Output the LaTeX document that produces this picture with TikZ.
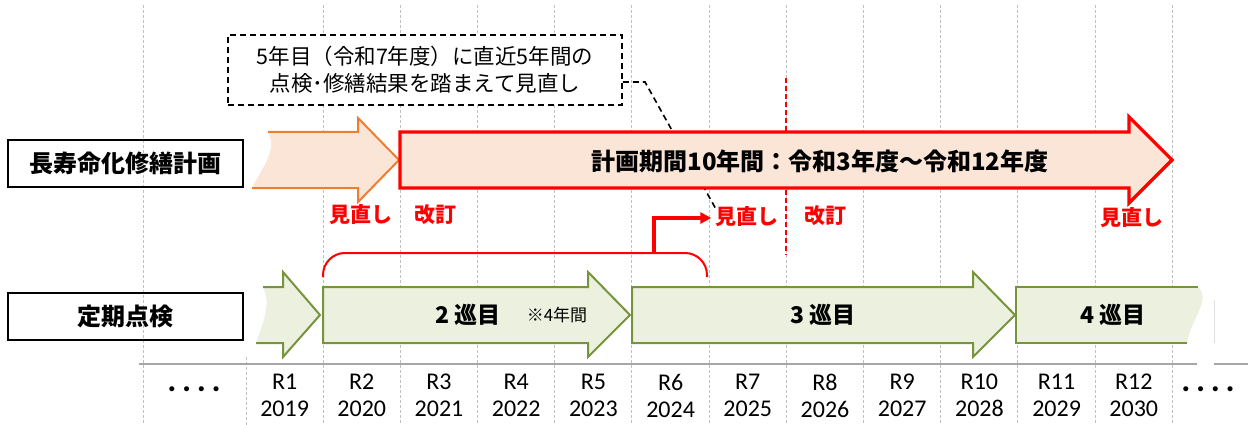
\documentclass[tikz,border=0pt]{standalone}
\usepackage{fontspec}
\setmainfont{Carlito}
\newfontfamily\jp{Noto Sans CJK JP}
\usetikzlibrary{arrows.meta}
\definecolor{gridgray}{HTML}{BFBFBF}
\definecolor{axisgray}{HTML}{A6A6A6}
\definecolor{orstroke}{HTML}{ED7D31}
\definecolor{orfill}{HTML}{FBE5D6}
\definecolor{grstroke}{HTML}{77933C}
\definecolor{grfill}{HTML}{EBF1DE}
\definecolor{redline}{HTML}{FF0000}
\tikzset{
  gridline/.style={gridgray, line width=1, dash pattern=on 3pt off 2pt},
  lbox/.style={draw=black, line width=1.5, minimum width=235, minimum height=47,
    inner sep=0, font=\jp\bfseries\fontsize{24}{28}\selectfont},
  callout/.style={draw=black, fill=white, line width=1.6, dash pattern=on 6pt off 4pt,
    minimum width=394, minimum height=70, inner sep=0, align=center,
    font=\jp\fontsize{21.5}{27}\selectfont},
  redlbl/.style={text=redline, inner sep=0, font=\jp\bfseries\fontsize{21}{24}\selectfont},
  cyclelbl/.style={inner sep=0, font=\jp\bfseries\fontsize{23}{26}\selectfont},
  yearlbl/.style={inner sep=0, align=center, font=\fontsize{24}{27}\selectfont},
  dots/.style={inner sep=0, font=\bfseries\fontsize{34}{36}\selectfont},
  orarrow/.style={draw=orstroke, line width=2, line join=miter},
  grarrow/.style={draw=grstroke, fill=grfill, line width=2, line join=miter},
}
\begin{document}
\begin{tikzpicture}[x=1pt,y=-1pt]
\useasboundingbox (0,0) rectangle (1248,425);
% grid
\draw[gridline] (143,5) -- (143,425);
\draw[gridline] (246,357) -- (246,425);
\foreach \k in {0,...,11} {
  \draw[gridline] ({323+77.2*\k},5) -- ({323+77.2*\k},425);
}
% axis
\draw[axisgray, line width=1.5] (139,364) -- (1197,364);
\draw[axisgray, line width=1.5] (1214,364) -- (1248,364);
\draw[gray!25, line width=0.8] (1214,300) -- (1214,343);

% labels boxes
\node[lbox] (plan) at (125.5,163.5) {長寿命化修繕計画};
\node[lbox] (insp) at (125.5,316.5) {定期点検};

% callout
\node[callout] (note) at (425,70) {5年目（令和7年度）に直近5年間の\\点検･修繕結果を踏まえて見直し};

% red labels
\node[redlbl] (m1) at (361,215) {見直し};
\node[redlbl] (k1) at (435,215) {改訂};
\node[redlbl] (m2) at (747,217) {見直し};
\node[redlbl] (k2) at (825,216) {改訂};
\node[redlbl] (m3) at (1132,218) {見直し};

% leader line
\draw[black, line width=1.6, dash pattern=on 6pt off 4pt]
  ([yshift=-12pt]note.east) -- (645,82) -- ([xshift=1pt,yshift=-3pt]m2.north west);

% red dashed revision line (behind the plan arrow)
\draw[redline, line width=1.5, dash pattern=on 5pt off 3pt] (786,78) -- (786,255);

% orange previous plan arrow
\fill[orfill] (268,132) -- (358,132) -- (358,118) -- (399,160) -- (358,202) -- (358,188) -- (252,188)
  .. controls (262,168) and (278,150) .. cycle;
\draw[orarrow] (268,132) -- (358,132) -- (358,118) -- (399,160) -- (358,202) -- (358,188) -- (252,188);

% red plan arrow
\draw[draw=redline, fill=orfill, line width=3.2, line join=miter]
  (400,132) -- (1129,132) -- (1129,117) -- (1172,160) -- (1129,203) -- (1129,188) -- (400,188) -- cycle;
\node[inner sep=0, font=\jp\bfseries\fontsize{24}{28}\selectfont] (period) at (820,161)
  {計画期間10年間：令和3年度～令和12年度};

% bracket
\draw[redline, line width=2, rounded corners=22] (323,277) -- (323,253) -- (707,253) -- (707,277);
\coordinate (bk) at (654,253);
\draw[redline, line width=3.5, -{Triangle[length=11pt,width=11pt]}]
  (bk) |- ([xshift=-4pt,yshift=-1pt]m2.west);

% green inspection arrows
\fill[grfill] (263,287) -- (283,287) -- (283,272) -- (320,315) -- (283,357) -- (283,343) -- (256,343)
  .. controls (262,325) and (272,305) .. cycle;
\draw[draw=grstroke, line width=2, line join=miter]
  (263,287) -- (283,287) -- (283,272) -- (320,315) -- (283,357) -- (283,343) -- (256,343);

\draw[grarrow] (323,287) -- (588,287) -- (588,272) -- (630,315) -- (588,357) -- (588,343) -- (323,343) -- cycle;
\draw[grarrow] (632,287) -- (973,287) -- (973,272) -- (1015,315) -- (973,357) -- (973,343) -- (632,343) -- cycle;
\fill[grfill] (1016,287) -- (1198,287) .. controls (1212,300) and (1190,320) .. (1187,343) -- (1016,343) -- cycle;
\draw[draw=grstroke, line width=2, line join=miter] (1198,287) -- (1016,287) -- (1016,343) -- (1187,343);

\node[cyclelbl] (c2) at (468,315) {2 巡目};
\node[inner sep=0, font=\jp\fontsize{17}{20}\selectfont] (c2n) at (557,315) {※4年間};
\node[cyclelbl] (c3) at (823,315) {3 巡目};
\node[cyclelbl] (c4) at (1113,315) {4 巡目};

% years
\foreach \k/\y in {1/2019,2/2020,3/2021,4/2022,5/2023,6/2024,7/2025,8/2026,9/2027,10/2028,11/2029,12/2030} {
  \node[yearlbl] (yr\k) at ({284.6+77.2*(\k-1)},395.5) {R\k\\\y};
}
\node[dots] (dl) at (194,389) {.\,.\,.\,.};
\node[dots] (dr) at (1208,389) {.\,.\,.\,.};
\end{tikzpicture}
\end{document}
